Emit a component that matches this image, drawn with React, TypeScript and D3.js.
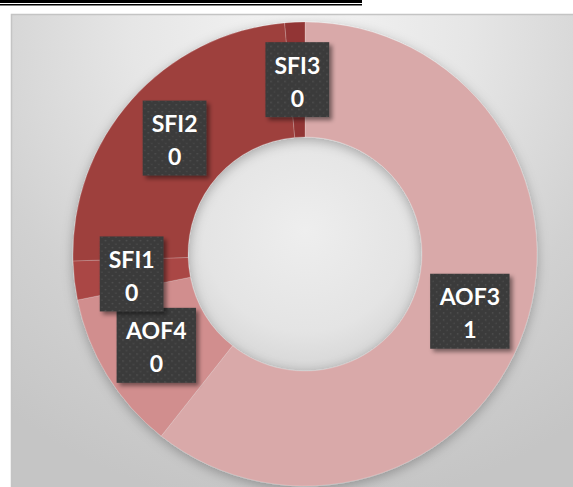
import React, { useEffect, useRef } from 'react';
import * as d3 from 'd3';

const categories: string[] = ['AOF3', 'AOF4', 'SFI1', 'SFI2', 'SFI3'];
const values: number[] = [0.607, 0.112, 0.027, 0.241, 0.014];
const sliceColors: string[] = ['#d9a9a9', '#d18e8e', '#aa4644', '#9e403e', '#923634'];

const W = 573;
const H = 487;
const CX = 305;
const CY = 254;
const OUTER_R = 232;
const INNER_R = 117;

export default function App() {
  const ref = useRef<SVGSVGElement>(null);

  useEffect(() => {
    const svg = d3.select(ref.current);
    svg.selectAll('*').remove();
    const defs = svg.append('defs');

    // background gradient
    const bg = defs.append('radialGradient')
      .attr('id', 'bg').attr('gradientUnits', 'userSpaceOnUse')
      .attr('cx', 300).attr('cy', 30).attr('r', 480);
    ([[0, '#f4f4f4'], [0.35, '#e6e6e6'], [0.7, '#d1d1d1'], [1, '#c5c5c5']] as [number, string][])
      .forEach(([o, c]) => bg.append('stop').attr('offset', o).attr('stop-color', c));

    // hole gradient
    const hole = defs.append('radialGradient')
      .attr('id', 'hole').attr('cx', '50%').attr('cy', '40%').attr('r', '62%');
    ([[0, '#eeeeee'], [0.7, '#e4e4e4'], [0.9, '#dadada'], [1, '#cdcdcd']] as [number, string][])
      .forEach(([o, c]) => hole.append('stop').attr('offset', o).attr('stop-color', c));

    // ring shadow
    const rs = defs.append('filter').attr('id', 'ringShadow')
      .attr('x', '-20%').attr('y', '-20%').attr('width', '140%').attr('height', '140%');
    rs.append('feDropShadow').attr('dx', 0).attr('dy', 3).attr('stdDeviation', 6)
      .attr('flood-color', '#000').attr('flood-opacity', 0.28);

    // label shadow
    const ls = defs.append('filter').attr('id', 'lblShadow')
      .attr('x', '-30%').attr('y', '-30%').attr('width', '160%').attr('height', '160%');
    ls.append('feDropShadow').attr('dx', 3).attr('dy', 3).attr('stdDeviation', 2)
      .attr('flood-color', '#000').attr('flood-opacity', 0.45);

    // dotted pattern for label boxes
    const pat = defs.append('pattern').attr('id', 'dots')
      .attr('patternUnits', 'userSpaceOnUse').attr('width', 7).attr('height', 7);
    pat.append('rect').attr('width', 7).attr('height', 7).attr('fill', '#3b3b3b');
    pat.append('circle').attr('cx', 1.75).attr('cy', 1.75).attr('r', 0.8).attr('fill', '#575757');
    pat.append('circle').attr('cx', 5.25).attr('cy', 5.25).attr('r', 0.8).attr('fill', '#4c4c4c');

    // top rule lines
    svg.append('rect').attr('x', 0).attr('y', 0).attr('width', 362).attr('height', 3).attr('fill', '#000');
    svg.append('rect').attr('x', 0).attr('y', 4).attr('width', 362).attr('height', 1.5).attr('fill', '#000');

    // chart area
    svg.append('rect')
      .attr('x', 11.5).attr('y', 14.5).attr('width', 620).attr('height', 520)
      .attr('fill', 'url(#bg)').attr('stroke', '#c4c4c4').attr('stroke-width', 1.5);

    const data = categories.map((c, i) => ({ name: c, value: values[i], color: sliceColors[i] }));
    const pie = d3.pie<{ name: string; value: number; color: string }>()
      .sort(null).value(d => d.value).startAngle(0).endAngle(2 * Math.PI);
    const arcs = pie(data);
    const arc = d3.arc<d3.PieArcDatum<{ name: string; value: number; color: string }>>()
      .innerRadius(INNER_R).outerRadius(OUTER_R);

    const g = svg.append('g').attr('transform', `translate(${CX},${CY})`);
    g.append('circle').attr('r', INNER_R).attr('fill', 'url(#hole)');
    const ring = g.append('g').attr('filter', 'url(#ringShadow)');
    ring.selectAll('path').data(arcs).enter().append('path')
      .attr('d', d => arc(d) as string)
      .attr('fill', d => d.data.color)
      .attr('stroke', 'rgba(255,255,255,0.25)')
      .attr('stroke-width', 0.75);

    const fmt = d3.format('.0f');
    const lbl = g.selectAll('g.lbl').data(arcs).enter().append('g')
      .attr('class', 'lbl')
      .attr('transform', d => { const [x, y] = arc.centroid(d); return `translate(${x},${y})`; });
    const rects = lbl.append('rect').attr('fill', 'url(#dots)').attr('filter', 'url(#lblShadow)');
    const txt = lbl.append('text')
      .attr('text-anchor', 'middle')
      .attr('font-family', 'Lato, "Open Sans", sans-serif')
      .attr('font-weight', 700).attr('font-size', 23).attr('fill', '#ffffff');
    txt.append('tspan').attr('x', 0).attr('y', -6).text(d => d.data.name);
    txt.append('tspan').attr('x', 0).attr('y', 27).text(d => fmt(d.data.value));
    rects.each(function (_d, i) {
      const t = txt.nodes()[i] as SVGTextElement;
      const w = t.getBBox().width + 18;
      d3.select(this).attr('x', -w / 2).attr('y', -37.5).attr('width', w).attr('height', 75);
    });
  }, []);

  return (
    <svg
      ref={ref}
      width={W}
      height={H}
      style={{ position: 'absolute', left: 0, top: 0, display: 'block', background: '#ffffff' }}
    />
  );
}
